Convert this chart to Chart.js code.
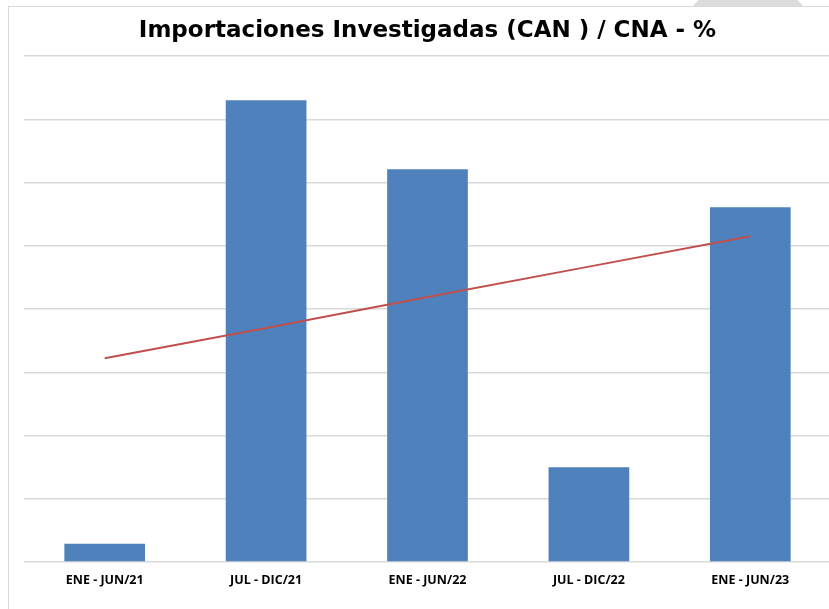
<!DOCTYPE html>
<html>
<head>
<meta charset="utf-8">
<script src="https://cdn.jsdelivr.net/npm/chart.js@4/dist/chart.umd.min.js"></script>
<style>
  html, body { margin:0; padding:0; background:#fff; }
  #wrap { position:relative; width:829px; height:609px; overflow:hidden; }
  #c { position:absolute; left:0; top:0; }
  .lineL { position:absolute; left:8px; top:6px; width:1px; height:603px; background:#d9d9d9; }
  .lineT { position:absolute; left:8px; top:6px; width:821px; height:1px; background:#d9d9d9; }
  .trap { position:absolute; left:693px; top:0; width:110px; height:6px; background:#dcdcdc;
          clip-path: polygon(5% 0, 95% 0, 100% 100%, 0 100%); }
</style>
</head>
<body>
<div id="wrap">
  <div class="trap"></div>
  <div class="lineT"></div>
  <div class="lineL"></div>
  <canvas id="c" width="831" height="609"></canvas>
</div>
<script>
const categories = ["ENE - JUN/21", "JUL - DIC/21", "ENE - JUN/22", "JUL - DIC/22", "ENE - JUN/23"];
const barValues = [0.29, 7.30, 6.21, 1.50, 5.61];
const trendValues = [3.22, 3.70, 4.19, 4.67, 5.15];
const titleText = "Importaciones Investigadas (CAN ) / CNA - %";

new Chart(document.getElementById('c'), {
  data: {
    labels: categories,
    datasets: [
      {
        type: 'line',
        data: trendValues,
        borderColor: '#c0504d',
        borderWidth: 2,
        pointRadius: 0,
        tension: 0,
        fill: false,
        order: 0
      },
      {
        type: 'bar',
        data: barValues,
        backgroundColor: '#4f81bd',
        borderWidth: 0,
        barPercentage: 0.5,
        categoryPercentage: 1.0,
        order: 1
      }
    ]
  },
  options: {
    responsive: false,
    animation: false,
    layout: { padding: { left: 24, right: 0, top: 0, bottom: 10 } },
    plugins: {
      legend: { display: false },
      tooltip: { enabled: false },
      title: {
        display: true,
        text: titleText,
        color: '#000',
        font: { family: 'DejaVu Sans', size: 23, weight: 'bold' },
        padding: { top: 17, bottom: 11.4 }
      }
    },
    scales: {
      x: {
        grid: { display: false, drawTicks: false },
        border: { display: false },
        ticks: {
          color: '#000',
          font: { family: 'Open Sans', size: 12.5, weight: 'bold' },
          padding: 11,
          maxRotation: 0
        }
      },
      y: {
        min: 0,
        max: 8,
        ticks: { display: false, stepSize: 1 },
        grid: { color: '#d9d9d9', lineWidth: 1.5, drawTicks: false },
        border: { display: false }
      }
    }
  }
});
</script>
</body>
</html>
